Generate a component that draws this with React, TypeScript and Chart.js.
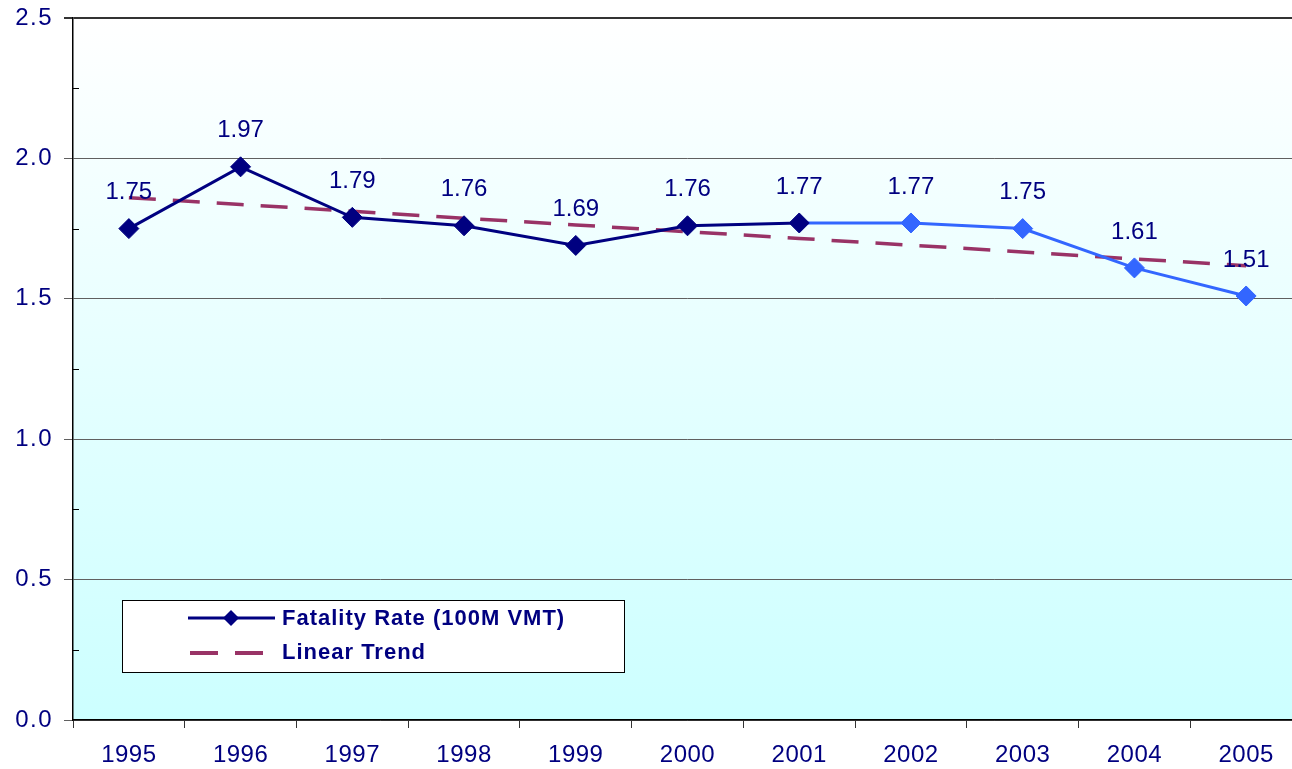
import React, { useEffect, useRef } from "react";
import { Chart, registerables } from "chart.js";

Chart.register(...registerables);

const years = ["1995", "1996", "1997", "1998", "1999", "2000", "2001", "2002", "2003", "2004", "2005"];
const fatalityRate = [1.75, 1.97, 1.79, 1.76, 1.69, 1.76, 1.77, 1.77, 1.75, 1.61, 1.51];
const linearTrend = [1.86, 1.836, 1.812, 1.787, 1.763, 1.739, 1.715, 1.691, 1.667, 1.642, 1.618];
const yTicks = [0, 0.5, 1.0, 1.5, 2.0, 2.5];
const minorTicks = [0.25, 0.75, 1.25, 1.75, 2.25];
const seriesLabels = ["Fatality Rate (100M VMT)", "Linear Trend"];

const NAVY = "#000080";
const BLUE = "#3366FF";
const TREND = "#993366";
const FONT = '"Liberation Sans", Arial, sans-serif';
const SPLIT = 6; // index of 2001: later segments/points drawn in lighter blue

const bgPlugin = {
  id: "bgGradient",
  beforeDraw(chart: any) {
    const { ctx, chartArea } = chart;
    if (!chartArea) return;
    const g = ctx.createLinearGradient(0, chartArea.top, 0, chartArea.bottom);
    g.addColorStop(0, "#ffffff");
    g.addColorStop(1, "#ccffff");
    ctx.save();
    ctx.fillStyle = g;
    ctx.fillRect(chartArea.left, chartArea.top, chartArea.right - chartArea.left, chartArea.bottom - chartArea.top);
    ctx.restore();
  },
};

const spacingPlugin = {
  id: "labelSpacing",
  afterLayout(chart: any) {
    const wrap = (scale: any, spacing: string) => {
      if (!scale || scale.__wrapped) return;
      const orig = scale.drawLabels.bind(scale);
      scale.drawLabels = (area: any) => {
        const ctx = chart.ctx;
        ctx.save();
        ctx.letterSpacing = spacing;
        orig(area);
        ctx.restore();
      };
      scale.__wrapped = true;
    };
    wrap(chart.scales.y, "1.5px");
    wrap(chart.scales.x, "0.5px");
  },
};

const minorTickPlugin = {
  id: "minorTicks",
  afterDraw(chart: any) {
    const { ctx, chartArea, scales } = chart;
    ctx.save();
    ctx.strokeStyle = "#000000";
    ctx.lineWidth = 1;
    minorTicks.forEach((v) => {
      const y = Math.round(scales.y.getPixelForValue(v)) + 0.5;
      ctx.beginPath();
      ctx.moveTo(chartArea.left, y);
      ctx.lineTo(chartArea.left + 6, y);
      ctx.stroke();
    });
    ctx.restore();
  },
};

const labelPlugin = {
  id: "pointLabels",
  afterDatasetsDraw(chart: any) {
    const { ctx } = chart;
    const meta = chart.getDatasetMeta(0);
    ctx.save();
    ctx.font = `24px ${FONT}`;
    ctx.fillStyle = NAVY;
    ctx.textAlign = "center";
    ctx.textBaseline = "middle";
    meta.data.forEach((pt: any, i: number) => {
      ctx.fillText(fatalityRate[i].toFixed(2), pt.x, pt.y - 36);
    });
    ctx.restore();
  },
};

const legendPlugin = {
  id: "boxLegend",
  afterDraw(chart: any) {
    const { ctx } = chart;
    const bx = 122.5, by = 600.5, bw = 502, bh = 72;
    ctx.save();
    ctx.fillStyle = "#ffffff";
    ctx.fillRect(bx, by, bw, bh);
    ctx.strokeStyle = "#000000";
    ctx.lineWidth = 1;
    ctx.strokeRect(bx, by, bw, bh);

    // series 1 sample
    ctx.strokeStyle = NAVY;
    ctx.lineWidth = 3;
    ctx.beginPath();
    ctx.moveTo(188, 618);
    ctx.lineTo(275, 618);
    ctx.stroke();
    ctx.fillStyle = NAVY;
    ctx.beginPath();
    ctx.moveTo(231 - 8, 618);
    ctx.lineTo(231, 618 - 8);
    ctx.lineTo(231 + 8, 618);
    ctx.lineTo(231, 618 + 8);
    ctx.closePath();
    ctx.fill();

    // series 2 sample
    ctx.strokeStyle = TREND;
    ctx.lineWidth = 4;
    ctx.beginPath();
    ctx.moveTo(190, 653);
    ctx.lineTo(218, 653);
    ctx.moveTo(235, 653);
    ctx.lineTo(263, 653);
    ctx.stroke();

    ctx.fillStyle = NAVY;
    ctx.font = `bold 22px ${FONT}`;
    (ctx as any).letterSpacing = "1px";
    ctx.textAlign = "left";
    ctx.textBaseline = "middle";
    ctx.fillText(seriesLabels[0], 282, 619);
    ctx.fillText(seriesLabels[1], 282, 653);
    ctx.restore();
  },
};

export default function App() {
  const ref = useRef<HTMLCanvasElement | null>(null);

  useEffect(() => {
    document.body.style.margin = "0";
    if (!ref.current) return;
    const chart = new Chart(ref.current, {
      type: "line",
      data: {
        labels: years,
        datasets: [
          {
            label: seriesLabels[0],
            data: fatalityRate,
            borderColor: NAVY,
            borderWidth: 3,
            pointStyle: "rectRot",
            pointRadius: 10,
            pointBorderWidth: 1,
            pointBackgroundColor: fatalityRate.map((_, i) => (i > SPLIT ? BLUE : NAVY)),
            pointBorderColor: fatalityRate.map((_, i) => (i > SPLIT ? BLUE : NAVY)),
            segment: {
              borderColor: (c: any) => (c.p0DataIndex >= SPLIT ? BLUE : NAVY),
            },
            tension: 0,
          },
          {
            label: seriesLabels[1],
            data: linearTrend,
            borderColor: TREND,
            borderWidth: 3.5,
            borderDash: [27, 17],
            pointRadius: 0,
            tension: 0,
          },
        ],
      },
      options: {
        responsive: false,
        animation: false,
        devicePixelRatio: 1,
        layout: { autoPadding: false, padding: { top: 18, right: 0, left: 0, bottom: 0 } },
        plugins: {
          legend: { display: false },
          tooltip: { enabled: false },
        },
        scales: {
          x: {
            type: "category",
            offset: true,
            grid: {
              offset: true,
              drawOnChartArea: false,
              drawTicks: true,
              tickLength: 8,
              color: "#333333",
            },
            border: { color: "#000000", width: 1.5 },
            ticks: {
              color: NAVY,
              font: { family: FONT, size: 24 },
              padding: 13,
              maxRotation: 0,
            },
            afterFit: (s: any) => {
              s.height = 49;
              s.paddingLeft = 0;
              s.paddingRight = 0;
            },
          },
          y: {
            min: 0,
            max: 2.5,
            afterBuildTicks: (s: any) => {
              s.ticks = yTicks.map((v) => ({ value: v }));
            },
            grid: {
              color: (c: any) => (c.tick && c.tick.value === 2.5 ? "#333333" : "#606060"),
              lineWidth: (c: any) => (c.tick && c.tick.value === 2.5 ? 2 : 1),
              tickLength: 9,
            },
            border: { color: "#000000", width: 1.5 },
            ticks: {
              color: NAVY,
              font: { family: FONT, size: 24 },
              padding: 11,
              callback: (v: any) => Number(v).toFixed(1),
            },
            afterFit: (s: any) => {
              s.width = 73;
              s.paddingTop = 0;
              s.paddingBottom = 0;
            },
          },
        },
      },
      plugins: [bgPlugin, spacingPlugin, minorTickPlugin, labelPlugin, legendPlugin],
    });
    return () => chart.destroy();
  }, []);

  return (
    <div style={{ width: 1292, height: 769, overflow: "hidden", position: "relative", background: "#ffffff" }}>
      <canvas ref={ref} width={1302} height={769} style={{ display: "block", width: 1302, height: 769 }} />
    </div>
  );
}
